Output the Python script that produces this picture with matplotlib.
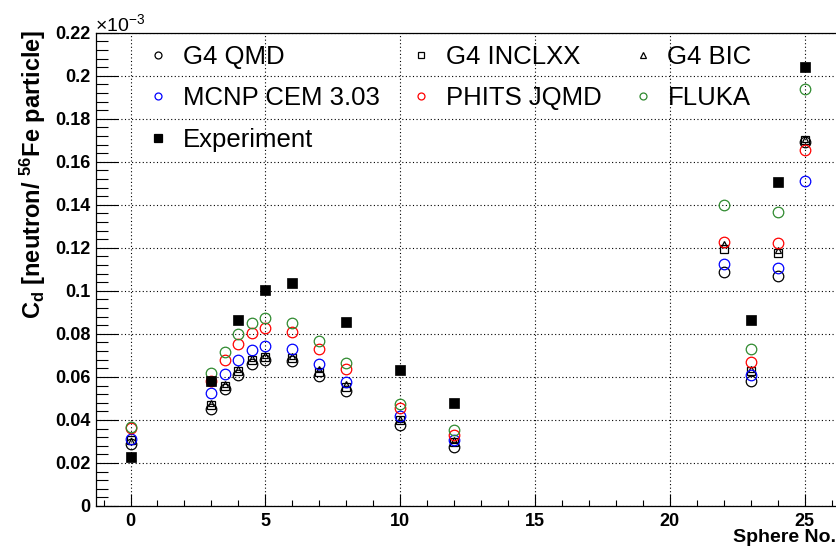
import matplotlib
matplotlib.use("Agg")
import matplotlib.pyplot as plt
from matplotlib.lines import Line2D
from matplotlib.ticker import MultipleLocator, FuncFormatter

plt.rcParams['font.family'] = ['Liberation Sans', 'DejaVu Sans']
plt.rcParams['mathtext.fontset'] = 'custom'
plt.rcParams['mathtext.rm'] = 'Liberation Sans'
plt.rcParams['mathtext.bf'] = 'Liberation Sans:bold'
plt.rcParams['mathtext.it'] = 'Liberation Sans:italic'

# ---- data ----
spheres = [0, 3, 3.5, 4, 4.5, 5, 6, 7, 8, 10, 12, 22, 23, 24, 25]
g4_qmd    = [0.0290, 0.0450, 0.0542, 0.0610, 0.0660, 0.0677, 0.0672, 0.0603, 0.0534, 0.0378, 0.0274, 0.1087, 0.0580, 0.1069, 0.1690]
g4_inclxx = [0.0305, 0.0470, 0.0557, 0.0626, 0.0677, 0.0692, 0.0688, 0.0622, 0.0554, 0.0398, 0.0296, 0.1195, 0.0628, 0.1174, 0.1700]
g4_bic    = [0.0300, 0.0480, 0.0565, 0.0637, 0.0688, 0.0703, 0.0698, 0.0637, 0.0565, 0.0405, 0.0309, 0.1216, 0.0636, 0.1188, 0.1707]
mcnp_cem  = [0.0310, 0.0526, 0.0614, 0.0680, 0.0726, 0.0745, 0.0729, 0.0660, 0.0575, 0.0420, 0.0309, 0.1123, 0.0611, 0.1104, 0.1510]
phits     = [0.0362, 0.0580, 0.0677, 0.0754, 0.0803, 0.0829, 0.0808, 0.0729, 0.0637, 0.0456, 0.0332, 0.1226, 0.0671, 0.1223, 0.1657]
fluka     = [0.0366, 0.0618, 0.0718, 0.0800, 0.0852, 0.0872, 0.0849, 0.0765, 0.0665, 0.0476, 0.0352, 0.1400, 0.0731, 0.1368, 0.1937]
spheres_exp = [0, 3, 4, 5, 6, 8, 10, 12, 23, 24, 25]
experiment  = [0.0228, 0.0580, 0.0865, 0.1006, 0.1037, 0.0857, 0.0631, 0.0479, 0.0863, 0.1505, 0.2042]

x_ticks = [0, 5, 10, 15, 20, 25]
y_ticks = [0, 0.02, 0.04, 0.06, 0.08, 0.1, 0.12, 0.14, 0.16, 0.18, 0.2, 0.22]

GREEN = '#2f8a2f'

W, H = 837, 550
fig = plt.figure(figsize=(W / 100, H / 100), dpi=100)
x0, x1 = -1.28, 26.4
px_per_unit = 26.97
ax_left = 96 / W
ax_bottom = (H - 506) / H
ax_height = (506 - 32.7) / H
ax_width = (x1 - x0) * px_per_unit / W
ax = fig.add_axes([ax_left, ax_bottom, ax_width, ax_height])
ax.set_xlim(x0, x1)
ax.set_ylim(0, 0.22)

# grid
ax.set_xticks(x_ticks)
ax.set_yticks(y_ticks)
ax.grid(True, which='major', color='black', linestyle=(0, (1, 2.2)), linewidth=0.8)
ax.set_axisbelow(True)

mew = 0.9
ms = 7.6
ax.plot(spheres, g4_qmd, linestyle='none', marker='o', ms=ms, mfc='none', mec='black', mew=mew, zorder=3)
ax.plot(spheres, g4_inclxx, linestyle='none', marker='s', ms=5.6, mfc='none', mec='black', mew=mew, zorder=3)
ax.plot(spheres, g4_bic, linestyle='none', marker='^', ms=4.8, mfc='none', mec='black', mew=mew, zorder=3)
ax.plot(spheres, mcnp_cem, linestyle='none', marker='o', ms=ms, mfc='none', mec='blue', mew=mew, zorder=3)
ax.plot(spheres, phits, linestyle='none', marker='o', ms=ms, mfc='none', mec='red', mew=mew, zorder=3)
ax.plot(spheres, fluka, linestyle='none', marker='o', ms=ms, mfc='none', mec=GREEN, mew=mew, zorder=3)
ax.plot(spheres_exp, experiment, linestyle='none', marker='s', ms=6.5, mfc='black', mec='black', mew=0.5, zorder=4)

# spines / ticks
for s in ['left', 'bottom', 'top']:
    ax.spines[s].set_linewidth(0.9)
    ax.spines[s].set_color('black')
ax.spines['right'].set_visible(False)

ax.xaxis.set_minor_locator(MultipleLocator(1))
ax.yaxis.set_minor_locator(MultipleLocator(0.004))
ax.tick_params(axis='x', which='major', direction='in', length=8.6, width=0.8, pad=5, labelsize=13)
ax.tick_params(axis='x', which='minor', direction='in', length=4.3, width=0.8)
ax.tick_params(axis='y', which='major', direction='in', length=15.8, width=0.8, pad=4, labelsize=13)
ax.tick_params(axis='y', which='minor', direction='in', length=8.6, width=0.8)
ax.yaxis.set_major_formatter(FuncFormatter(lambda v, p: ('%g' % round(v, 4))))
for lab in ax.get_xticklabels() + ax.get_yticklabels():
    lab.set_fontweight('bold')

# titles
fig.text(836 / W, 1 - 538 / H, 'Sphere No.', ha='right', va='center', fontsize=14, fontweight='bold')
fig.text(33 / W, 1 - 30 / H, r'C$_{\mathbf{d}}$ [neutron/ $^{\mathbf{56}}$Fe particle]',
         rotation=90, ha='center', va='top', fontsize=17, fontweight='bold')
fig.text(95 / W, 1 - 31 / H, r'$\times$10$^{-3}$', ha='left', va='baseline', fontsize=14)

# legend
def h(marker, color, filled=False, size=5.0):
    return Line2D([], [], linestyle='none', marker=marker, ms=size, mec=color,
                  mfc=color if filled else 'none', mew=0.9)

handles = [h('o', 'black'), h('o', 'blue'), h('s', 'black', True, 5.2),
           h('s', 'black', size=4.8), h('o', 'red'),
           h('^', 'black', size=4.8), h('o', GREEN)]
labels = ['G4 QMD', 'MCNP CEM 3.03', 'Experiment',
          'G4 INCLXX', 'PHITS JQMD',
          'G4 BIC', 'FLUKA']
leg = ax.legend(handles, labels, ncol=3, frameon=False, fontsize=18.5,
                loc='upper left', bbox_to_anchor=(145 / W, 1 - 45 / H),
                bbox_transform=fig.transFigure, borderpad=0, borderaxespad=0,
                handlelength=1.0, handletextpad=0.47, columnspacing=1.1,
                labelspacing=0.68, numpoints=1)
leg.set_zorder(1)

fig.savefig('out.png', dpi=100)
